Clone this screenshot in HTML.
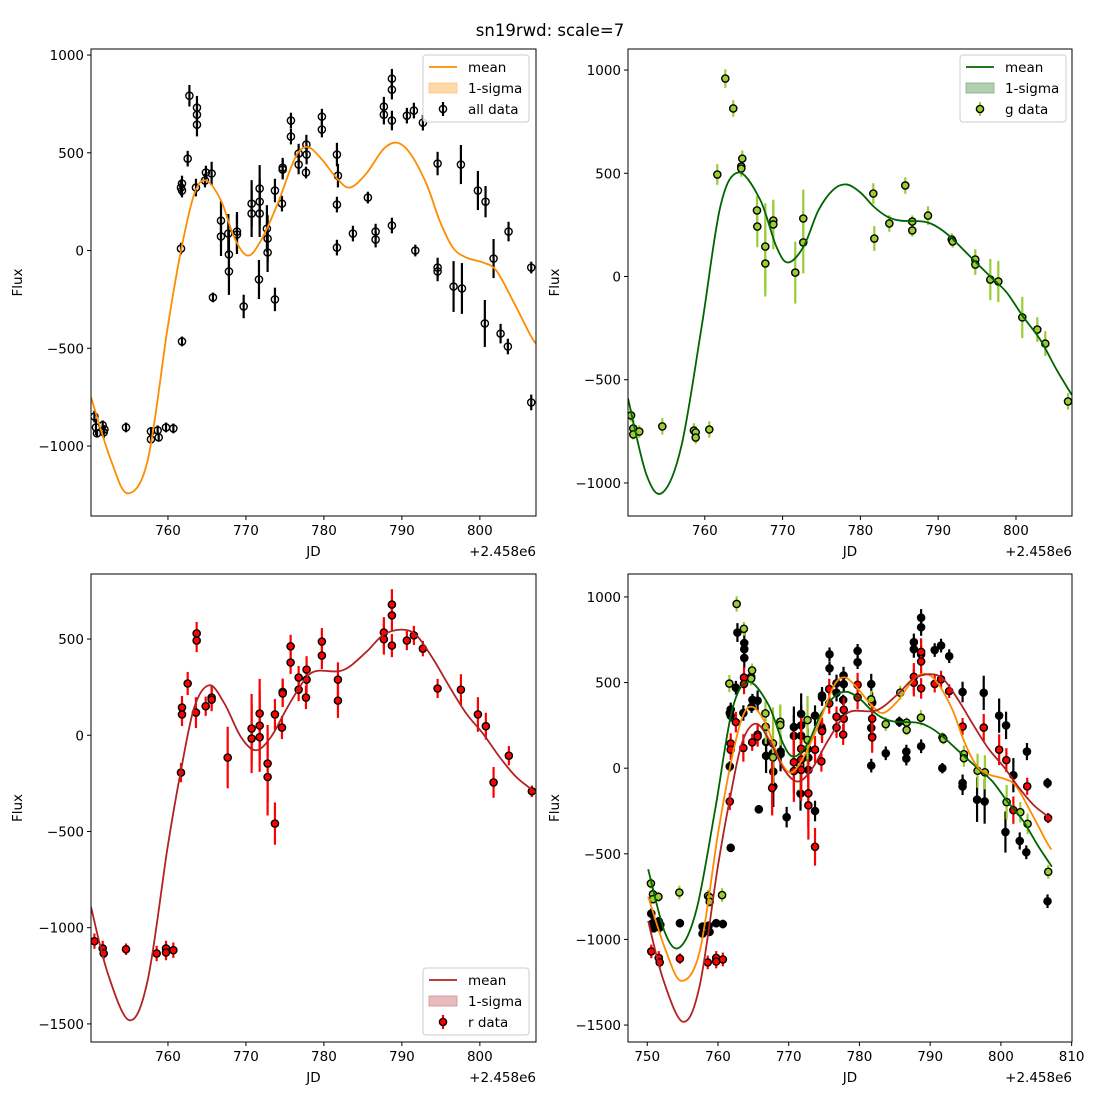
<!DOCTYPE html>
<html><head><meta charset="utf-8"><style>
html,body{margin:0;padding:0;background:#fff;}
svg{display:block;font-family:"DejaVu Sans","Liberation Sans",sans-serif;}
</style></head><body>
<svg id="fig" width="1100" height="1100" viewBox="0 0 1100 1100">
<text x="550" y="36" text-anchor="middle" font-size="16.5" fill="#000">sn19rwd: scale=7</text>
</svg>
<script>
// ---- data: all bands ----
const allX=[750.57,750.77,750.90,751.63,751.76,751.85,754.62,757.82,757.82,758.68,758.81,759.75,760.69,761.67,761.80,761.67,761.80,761.80,762.53,762.75,763.59,763.72,763.72,763.72,764.75,764.87,765.60,765.77,766.80,766.80,767.74,767.82,767.82,768.85,768.85,769.71,770.73,770.73,771.67,771.76,771.76,771.76,772.69,772.78,772.78,773.72,773.72,774.62,774.71,774.71,775.77,775.77,776.76,776.76,777.70,777.75,777.78,779.74,779.74,781.67,781.80,781.67,781.67,783.72,785.64,786.63,786.63,787.69,787.69,788.72,788.72,788.72,788.72,790.64,791.54,791.72,792.69,794.58,794.58,794.58,796.63,797.57,797.70,799.75,800.64,800.73,801.76,802.66,803.59,803.68,806.59,806.59];
const allY=[-849,-905,-935,-894,-930,-915,-905,-925,-966,-920,-956,-905,-910,10,-465,322,343,307,470,792,322,731,695,644,358,399,394,-240,153,72,87,-20,-107,97,82,-286,240,189,-148,317,250,189,112,61,-10,307,-250,240,424,414,665,583,496,440,399,542,491,685,619,491,383,235,15,87,271,97,56,736,695,879,823,665,128,690,716,0,654,445,-87,-107,-184,440,-194,307,-373,250,-41,-425,-491,97,-87,-777];
const allErr=[30,40,20,25,30,20,25,20,20,25,20,25,25,30,25,40,40,35,40,55,45,60,60,60,35,35,60,25,100,100,100,120,120,100,100,60,120,120,100,120,120,120,120,120,100,60,60,40,50,50,40,40,50,50,30,50,50,40,40,60,60,40,40,40,30,40,40,50,50,50,50,50,40,40,40,30,40,60,50,50,130,100,130,100,120,80,100,50,40,50,30,40];
// ---- g band ----
const gX=[750.52,750.81,750.81,751.58,754.54,758.60,758.83,758.83,760.58,761.61,762.64,763.66,764.69,764.69,764.82,766.71,766.75,767.78,767.78,768.81,768.81,771.63,772.66,772.66,781.66,781.79,783.72,785.77,786.67,786.67,788.69,791.74,791.86,794.77,794.77,796.70,797.73,800.81,802.74,803.77,806.69];
const gY=[-673,-736,-765,-751,-726,-746,-755,-780,-741,494,959,814,533,523,571,320,242,145,63,271,252,19,281,165,402,184,257,441,266,223,295,179,170,82,58,-15,-24,-198,-257,-325,-605];
const gErr=[30,40,25,30,40,35,30,30,40,50,45,40,40,40,40,70,100,210,160,90,120,150,140,150,50,60,40,40,30,30,45,30,30,50,50,100,100,100,60,60,40];
// ---- r band ----
const rX=[750.57,751.63,751.76,754.62,758.55,759.75,759.75,760.69,761.67,761.80,761.80,762.53,763.59,763.68,763.68,764.84,765.60,765.60,767.66,770.73,770.73,771.76,771.76,771.76,772.78,772.78,773.72,773.72,774.62,774.71,774.71,775.73,775.73,776.76,776.76,777.70,777.78,777.78,779.74,779.74,781.80,781.80,787.69,787.69,788.72,788.72,788.72,790.64,791.54,792.69,794.58,797.57,799.75,800.77,801.76,803.72,806.67];
const rY=[-1070,-1108,-1134,-1112,-1134,-1108,-1129,-1117,-194,144,108,269,118,529,492,151,196,185,-116,35,-17,113,50,-10,-147,-217,108,-459,40,225,217,462,378,300,237,196,341,289,487,414,289,180,534,499,679,623,466,492,519,450,243,237,108,47,-245,-106,-291];
const rErr=[40,40,30,30,40,40,40,40,50,60,60,60,80,60,60,50,60,60,160,180,180,180,180,180,200,200,80,110,60,70,70,60,60,60,60,60,70,70,70,70,90,90,80,80,80,80,60,50,50,40,50,80,90,70,80,50,30];
// ---- mean curves (knots) ----
const allMeanX=[750.13,752.69,754.84,757.40,759.96,761.67,763.39,764.87,766.80,768.51,770.22,771.92,774.07,775.77,776.89,778.17,779.87,781.59,783.30,785.44,787.57,789.28,790.99,793.13,794.84,796.54,798.26,800.39,802.10,804.23,806.37,807.14];
const allMeanY=[-750,-1073,-1242,-1073,-394,0,291,358,256,66,-26,51,240,424,511,527,460,373,322,394,516,552,501,343,153,15,-36,-61,-102,-256,-424,-475];
const gMeanX=[750.13,752.5,754.6,757.0,759.6,762.0,764.3,767.1,769.2,770.7,772.7,774.6,776.5,778.2,780.0,781.7,783.4,785.1,788.1,789.8,791.5,794.5,796.7,798.8,800.9,803.1,805.2,807.2];
const gMeanY=[-590,-960,-1046,-820,-242,339,504,373,145,68,145,320,420,446,407,339,291,271,266,242,194,82,0,-77,-194,-305,-450,-575];
const rMeanX=[750.13,752.27,755.05,757.40,759.96,761.67,763.39,765.31,767.23,769.36,771.28,773.21,775.35,777.49,779.03,782.44,785.44,787.57,789.93,791.85,793.98,796.12,798.26,800.39,802.53,804.67,806.80,807.2];
const rMeanY=[-892,-1236,-1481,-1273,-580,-182,147,260,166,-9,-78,-9,147,286,334,338,433,520,549,520,398,251,113,9,-113,-217,-286,-300];
const xTicksA=[760,770,780,790,800];
const xTicksB=[750,760,770,780,790,800,810];
const yTicks1=[1000,500,0,-500,-1000];
const yTicks3=[500,0,-500,-1000,-1500];
const yTicks4=[1000,500,0,-500,-1000,-1500];

const NS='http://www.w3.org/2000/svg';
const fig=document.getElementById('fig');
function mk(tag,attrs,parent){const e=document.createElementNS(NS,tag);for(const k in attrs)e.setAttribute(k,attrs[k]);(parent||fig).appendChild(e);return e;}
function fmt(v){return v<0?'\u2212'+Math.abs(v):String(v);}
function smoothPath(pts){
  let d='M'+pts[0][0].toFixed(2)+','+pts[0][1].toFixed(2);
  for(let i=0;i<pts.length-1;i++){
    const p0=pts[Math.max(0,i-1)],p1=pts[i],p2=pts[i+1],p3=pts[Math.min(pts.length-1,i+2)];
    const c1x=p1[0]+(p2[0]-p0[0])/6,c1y=p1[1]+(p2[1]-p0[1])/6;
    const c2x=p2[0]-(p3[0]-p1[0])/6,c2y=p2[1]-(p3[1]-p1[1])/6;
    d+=' C'+c1x.toFixed(2)+','+c1y.toFixed(2)+' '+c2x.toFixed(2)+','+c2y.toFixed(2)+' '+p2[0].toFixed(2)+','+p2[1].toFixed(2);
  }
  return d;
}

function panel(cfg){
  const g=mk('g',{});
  
  
  const sx=v=>cfg.L+(v-cfg.xmin)/(cfg.xmax-cfg.xmin)*(cfg.R-cfg.L);
  const sy=v=>cfg.B-(v-cfg.ymin)/(cfg.ymax-cfg.ymin)*(cfg.B-cfg.T);
  const cid='clip-'+cfg.name;
  const cp=mk('clipPath',{id:cid},g);
  mk('rect',{x:cfg.L,y:cfg.T,width:cfg.R-cfg.L,height:cfg.B-cfg.T},cp);
  const plot=mk('g',{'clip-path':'url(#'+cid+')'},g);
  cfg.series.forEach(s=>{
    const sg=mk('g',{},plot);
    
    
    for(let i=0;i<s.x.length;i++){
      const e=(s.err[i]!==undefined?s.err[i]:40);
      const bar=mk('line',{x1:sx(s.x[i]),x2:sx(s.x[i]),y1:sy(s.y[i]-e),y2:sy(s.y[i]+e),stroke:s.ecol,'stroke-width':2.2},sg);
      
      
    }
    for(let i=0;i<s.x.length;i++){
      const c=mk('circle',{cx:sx(s.x[i]),cy:sy(s.y[i]),r:3.6,fill:s.fill,stroke:'#000','stroke-width':1.4},sg);
      
      
    }
  });
  cfg.curves.forEach(cv=>{
    const pts=cv.x.map((v,i)=>[sx(v),sy(cv.y[i])]);
    const p=mk('path',{d:smoothPath(pts),fill:'none',stroke:cv.col,'stroke-width':1.8},plot);
    
    
  });
  const fr=mk('rect',{x:cfg.L,y:cfg.T,width:cfg.R-cfg.L,height:cfg.B-cfg.T,fill:'none',stroke:'#000','stroke-width':1},g);
  
  
  cfg.xticks.forEach(t=>{
    const x=sx(t);
    mk('line',{x1:x,x2:x,y1:cfg.B,y2:cfg.B+4,stroke:'#000'},g);
    const tx=mk('text',{x:x,y:cfg.B+19,'text-anchor':'middle','font-size':13.5},g);
    tx.textContent=String(t);
    
    
  });
  cfg.yticks.forEach(t=>{
    const y=sy(t);
    mk('line',{x1:cfg.L-4,x2:cfg.L,y1:y,y2:y,stroke:'#000'},g);
    const tx=mk('text',{x:cfg.L-7,y:y+5,'text-anchor':'end','font-size':13.5},g);
    tx.textContent=fmt(t);
    
    
  });
  const off=mk('text',{x:cfg.R,y:cfg.B+40,'text-anchor':'end','font-size':13.5},g);
  off.textContent='+2.458e6';
  
  
  const xl=mk('text',{x:(cfg.L+cfg.R)/2,y:cfg.B+40,'text-anchor':'middle','font-size':13.5},g);
  xl.textContent='JD';
  
  
  const yx=cfg.L-69, yy=(cfg.T+cfg.B)/2;
  const yl=mk('text',{x:yx,y:yy,'text-anchor':'middle','font-size':13.5,transform:'rotate(-90 '+yx+' '+yy+')'},g);
  yl.textContent='Flux';
  
  
  if(cfg.legend){
    const lg=cfg.legend;
    const lgG=mk('g',{},g);
    
    
    mk('rect',{x:lg.x,y:lg.y,width:106,height:67,rx:3,fill:'#fff','fill-opacity':0.85,stroke:'#ccc'},lgG);
    const r1=lg.y+12,r2=lg.y+33,r3=lg.y+54;
    mk('line',{x1:lg.x+6,x2:lg.x+34,y1:r1,y2:r1,stroke:lg.col,'stroke-width':1.8},lgG);
    mk('rect',{x:lg.x+6,y:r2-5,width:28,height:10,fill:lg.band,stroke:lg.bandEdge,'stroke-width':0.8},lgG);
    mk('line',{x1:lg.x+20,x2:lg.x+20,y1:r3-7,y2:r3+7,stroke:lg.ecol,'stroke-width':2.2},lgG);
    mk('circle',{cx:lg.x+20,cy:r3,r:3.6,fill:lg.mfill,stroke:'#000','stroke-width':1.4},lgG);
    const labels=['mean','1-sigma',lg.dataLabel];
    [r1,r2,r3].forEach((ry,i)=>{
      const t=mk('text',{x:lg.x+45,y:ry+5,'font-size':13.5},lgG);
      t.textContent=labels[i];
      
      
    });
  }
}
const XMIN=750.13,XMAX=807.2;
panel({name:'panel-all',L:91,R:536,T:49,B:516,xmin:XMIN,xmax:XMAX,ymin:-1358,ymax:1031,xticks:xTicksA,yticks:yTicks1,
  series:[{name:'all-data-series',x:allX,y:allY,err:allErr,fill:'none',ecol:'#000'}],
  curves:[{name:'mean-curve-all',x:allMeanX,y:allMeanY,col:'#ff8c00'}],
  legend:{x:423,y:55,col:'#ff8c00',band:'#ffd8a8',bandEdge:'#ffc680',ecol:'#000',mfill:'none',dataLabel:'all data'}});
panel({name:'panel-g',L:628,R:1072,T:49,B:516,xmin:XMIN,xmax:XMAX,ymin:-1160,ymax:1102,xticks:xTicksA,yticks:yTicks1,
  series:[{name:'g-data-series',x:gX,y:gY,err:gErr,fill:'#9acd32',ecol:'#9acd32'}],
  curves:[{name:'mean-curve-g',x:gMeanX,y:gMeanY,col:'#006400'}],
  legend:{x:960,y:55,col:'#006400',band:'#b2d1b2',bandEdge:'#80b080',ecol:'#9acd32',mfill:'#9acd32',dataLabel:'g data'}});
panel({name:'panel-r',L:91,R:536,T:574,B:1042,xmin:XMIN,xmax:XMAX,ymin:-1594,ymax:838,xticks:xTicksA,yticks:yTicks3,
  series:[{name:'r-data-series',x:rX,y:rY,err:rErr,fill:'#ff0000',ecol:'#ff0000'}],
  curves:[{name:'mean-curve-r',x:rMeanX,y:rMeanY,col:'#b22222'}],
  legend:{x:423,y:968,col:'#b22222',band:'#e8bcbc',bandEdge:'#d09090',ecol:'#ff0000',mfill:'#ff0000',dataLabel:'r data'}});
panel({name:'panel-combined',L:628,R:1072,T:574,B:1042,xmin:747.28,xmax:810.05,ymin:-1599,ymax:1134,xticks:xTicksB,yticks:yTicks4,
  series:[{name:'all-data-combined',x:allX,y:allY,err:allErr,fill:'#000',ecol:'#000'},
          {name:'g-data-combined',x:gX,y:gY,err:gErr,fill:'#9acd32',ecol:'#9acd32'},
          {name:'r-data-combined',x:rX,y:rY,err:rErr,fill:'#ff0000',ecol:'#ff0000'}],
  curves:[{name:'mean-curve-g-combined',x:gMeanX,y:gMeanY,col:'#006400'},
          {name:'mean-curve-all-combined',x:allMeanX,y:allMeanY,col:'#ff8c00'},
          {name:'mean-curve-r-combined',x:rMeanX,y:rMeanY,col:'#b22222'}]});
</script>
</body></html>
